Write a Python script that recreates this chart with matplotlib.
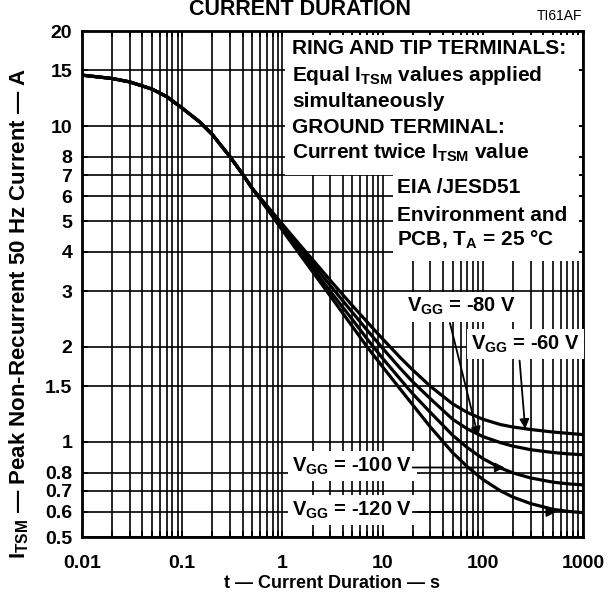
import numpy as np
import matplotlib.pyplot as plt
from matplotlib.patches import Rectangle

plt.rcParams['font.family'] = ['Liberation Sans', 'DejaVu Sans']
plt.rcParams['font.weight'] = 'bold'
plt.rcParams['axes.labelweight'] = 'bold'
plt.rcParams['mathtext.fontset'] = 'custom'
plt.rcParams['mathtext.rm'] = 'Liberation Sans:bold'
plt.rcParams['mathtext.bf'] = 'Liberation Sans:bold'
plt.rcParams['mathtext.it'] = 'Liberation Sans:bold'

# shared part of the curves (all VGG values together)
t_common = [0.01, 0.02, 0.03, 0.05, 0.07, 0.1, 0.15, 0.2, 0.3, 0.4]
i_common = [14.5, 14.15, 13.8, 13.1, 12.4, 11.4, 10.3, 9.4, 8.0, 7.05]

# after the split
t_tail = [0.5, 0.7, 1, 1.5, 2, 3, 5, 7, 10, 15, 20, 30, 50, 70, 100, 150, 200, 300, 500, 700, 1000]
i_60 = [6.35, 5.6, 4.89, 4.2, 3.78, 3.25, 2.7, 2.4, 2.12, 1.85, 1.69, 1.50, 1.32, 1.24, 1.18, 1.135,
        1.115, 1.095, 1.075, 1.065, 1.055]
i_80 = [6.35, 5.56, 4.82, 4.11, 3.67, 3.13, 2.57, 2.26, 1.98, 1.71, 1.55, 1.37, 1.18, 1.10, 1.04,
        0.995, 0.97, 0.945, 0.926, 0.917, 0.911]
i_100 = [6.35, 5.52, 4.75, 4.01, 3.56, 3.0, 2.44, 2.12, 1.84, 1.58, 1.42, 1.24, 1.05, 0.96, 0.886,
         0.827, 0.798, 0.769, 0.746, 0.737, 0.731]
i_120 = [6.35, 5.48, 4.68, 3.92, 3.46, 2.9, 2.32, 2.0, 1.73, 1.47, 1.31, 1.115, 0.925, 0.835, 0.761,
         0.70, 0.669, 0.638, 0.612, 0.603, 0.597]

x_ticks = [0.01, 0.1, 1, 10, 100, 1000]
x_labels = ['0.01', '0.1', '1', '10', '100', '1000']
y_ticks = [0.5, 0.6, 0.7, 0.8, 1, 1.5, 2, 3, 4, 5, 6, 7, 8, 10, 15, 20]
y_labels = ['0.5', '0.6', '0.7', '0.8', '1', '1.5', '2', '3', '4', '5', '6', '7', '8', '10', '15', '20']

fig = plt.figure(figsize=(6.1, 5.99), dpi=100)
ax = fig.add_axes([0.1344, 0.1035, 0.8213, 0.8447])

for iv in [i_60, i_80, i_100, i_120]:
    ax.plot(t_common + t_tail, i_common + iv, color='black', lw=2.3, zorder=3,
            solid_capstyle='butt', solid_joinstyle='round')

ax.set_xscale('log')
ax.set_yscale('log')
ax.set_xlim(0.01, 1000)
ax.set_ylim(0.5, 20)
ax.set_xticks(x_ticks, x_labels)
ax.set_xticks([m * d for d in [0.01, 0.1, 1, 10, 100] for m in range(2, 10)], minor=True)
ax.set_yticks(y_ticks, y_labels)
ax.yaxis.set_minor_locator(plt.NullLocator())
ax.grid(True, which='both', color='black', lw=1.2)
ax.tick_params(which='both', direction='in', top=True, right=True, length=4,
               width=1.2, labelsize=14, pad=7)
ax.tick_params(axis='x', which='major', pad=13)
for s in ax.spines.values():
    s.set_linewidth(2)

ax.set_xlabel('t — Current Duration — s', fontsize=13, labelpad=2)
ax.set_ylabel('I$_{\\mathrm{TSM}}$ — Peak Non-Recurrent 50 Hz Current — A', fontsize=16)
ax.yaxis.set_label_coords(-0.102, 0.443)

# white areas behind the notes
ax.add_patch(Rectangle((0.406, 0.716), 0.586, 0.276, transform=ax.transAxes,
                       facecolor='white', edgecolor='none', zorder=2))
ax.add_patch(Rectangle((0.620, 0.545), 0.372, 0.175, transform=ax.transAxes,
                       facecolor='white', edgecolor='none', zorder=2))

note1 = ['RING AND TIP TERMINALS:',
         'Equal I$_{\\mathrm{TSM}}$ values applied',
         'simultaneously',
         'GROUND TERMINAL:',
         'Current twice I$_{\\mathrm{TSM}}$ value']
for k, s in enumerate(note1):
    ax.text(0.419, [0.966, 0.913, 0.860, 0.810, 0.759][k], s, transform=ax.transAxes,
            fontsize=15, va='center', ha='left', zorder=4)
note2 = ['EIA /JESD51', 'Environment and', 'PCB, T$_{\\mathrm{A}}$ = 25 °C']
for k, s in enumerate(note2):
    ax.text(0.629, [0.690, 0.636, 0.587][k], s, transform=ax.transAxes,
            fontsize=15, va='center', ha='left', zorder=4)

box = dict(facecolor='white', edgecolor='none', pad=3)
arrow = dict(arrowstyle='-|>', color='black', lw=1.3, mutation_scale=14, shrinkA=0, shrinkB=0)

ax.text(0.758, 0.455, 'V$_{\\mathrm{GG}}$ = -80 V', transform=ax.transAxes, fontsize=14.5,
        ha='center', va='center', bbox=box, zorder=4)
ax.annotate('', xy=(90, 1.04), xytext=(47, 2.38), arrowprops=arrow, zorder=4)

ax.text(0.885, 0.381, 'V$_{\\mathrm{GG}}$ = -60 V', transform=ax.transAxes, fontsize=14.5,
        ha='center', va='center', bbox=box, zorder=4)
ax.annotate('', xy=(265, 1.10), xytext=(233, 1.81), arrowprops=arrow, zorder=4)

ax.text(0.66, 0.140, 'V$_{\\mathrm{GG}}$ = -100 V', transform=ax.transAxes, fontsize=14.5,
        ha='right', va='center', bbox=box, zorder=4)
ax.annotate('', xy=(165, 0.83), xytext=(20, 0.83), arrowprops=arrow, zorder=4)

ax.text(0.66, 0.053, 'V$_{\\mathrm{GG}}$ = -120 V', transform=ax.transAxes, fontsize=14.5,
        ha='right', va='center', bbox=box, zorder=4)
ax.annotate('', xy=(540, 0.60), xytext=(20, 0.60), arrowprops=arrow, zorder=4)

fig.text(0.492, 1 - 15 / 599, 'CURRENT DURATION', fontsize=15.5, ha='center', va='baseline')
fig.text(0.955, 1 - 20 / 599, 'TI61AF', fontsize=10, ha='right', va='baseline',
         fontweight='normal')

fig.savefig('out.png', dpi=100)
